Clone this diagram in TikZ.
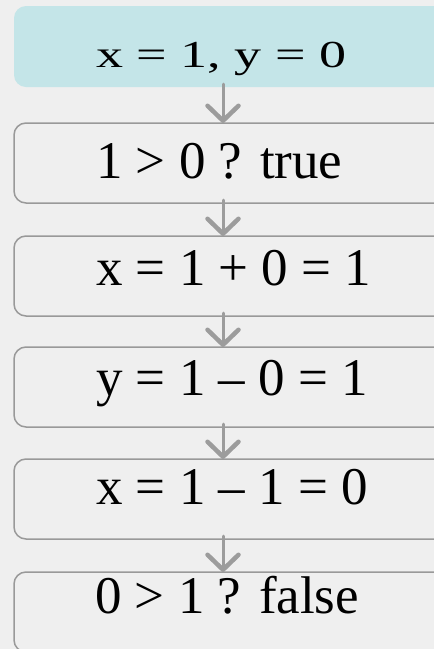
\documentclass[tikz,border=0pt]{standalone}
\usepackage{fontspec}
\setmainfont{Liberation Serif}
\usetikzlibrary{arrows.meta}
\definecolor{pagebg}{HTML}{EFEFEF}
\definecolor{startfill}{HTML}{C4E5E8}
\definecolor{edgegray}{HTML}{999999}
\definecolor{arrowgray}{HTML}{9C9C9C}

\begin{document}
\begin{tikzpicture}[x=1pt,y=-1pt,line cap=round,
  >={Straight Barb[length=15pt,width=31pt,line width=4.5pt,line cap=round,line join=round]},
  box/.style={draw=edgegray,line width=1.5pt,fill=pagebg,rounded corners=12pt,
    minimum width=460pt,minimum height=80pt,anchor=north west,inner sep=0pt,outer sep=0pt},
  start/.style={box,draw=none,fill=startfill,minimum height=81pt},
  txt/.style={anchor=base west,inner sep=0pt,font=\fontsize{53}{60}\selectfont},
  flow/.style={->,draw=arrowgray,line width=3pt}]
\useasboundingbox (0,0) rectangle (434,649);
\fill[pagebg] (0,0) rectangle (434,649);
\clip (0,0) rectangle (434,649);
% the six steps
\node[start] (b1) at (14,6) {};
\node[box] (b2) at (14,123) {};
\node[box] (b3) at (14,236) {};
\node[box] (b4) at (14,347) {};
\node[box] (b5) at (14,459) {};
\node[box] (b6) at (14,572) {};
\node[txt] (t1) at (96,67) {\scalebox{1.02}[0.72]{x = 1, y = 0}};
\node[txt] (t2) at (96,178) {1 > 0 ? true};
\node[txt] (t3) at (96,285) {x = 1 + 0 = 1};
\node[txt] (t4) at (96,395) {y = 1 – 0 = 1};
\node[txt] (t5) at (96,504) {x = 1 – 1 = 0};
\node[txt] (t6) at (95,613) {0 > 1 ? false};
% connectors
\coordinate (ax) at (223,0);
\draw[flow] ([yshift=3pt]b1.south -| ax) -- (b2.north -| ax);
\draw[flow] ([yshift=3pt]b2.south -| ax) -- (b3.north -| ax);
\draw[flow] ([yshift=3pt]b3.south -| ax) -- (b4.north -| ax);
\draw[flow] ([yshift=3pt]b4.south -| ax) -- (b5.north -| ax);
\draw[flow] ([yshift=3pt]b5.south -| ax) -- (b6.north -| ax);
\end{tikzpicture}
\end{document}
